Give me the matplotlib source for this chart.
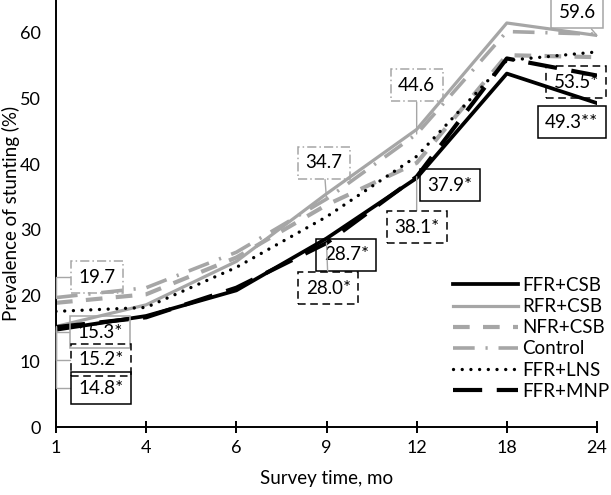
import matplotlib
matplotlib.use("Agg")
import matplotlib.pyplot as plt

plt.rcParams['font.family'] = ['Lato', 'DejaVu Sans']

months = ["1", "4", "6", "9", "12", "18", "24"]
ffr_csb = [14.8, 16.9, 20.8, 28.7, 37.9, 53.8, 49.3]
rfr_csb = [15.3, 18.6, 25.2, 35.5, 45.3, 61.5, 59.6]
nfr_csb = [18.9, 20.2, 25.8, 33.8, 40.2, 56.6, 56.3]
control = [19.7, 21.2, 26.6, 34.7, 44.6, 60.2, 59.8]
ffr_lns = [17.6, 18.2, 24.3, 32.0, 41.2, 55.8, 57.1]
ffr_mnp = [15.2, 16.7, 21.2, 28.0, 38.1, 56.1, 53.5]

series_names = ["FFR+CSB", "RFR+CSB", "NFR+CSB", "Control", "FFR+LNS", "FFR+MNP"]

ann_text = ["19.7", "15.3*", "15.2*", "14.8*", "28.7*", "28.0*", "38.1*", "37.9*",
            "34.7", "44.6", "59.6", "53.5*", "49.3**"]

GRAY = "#A6A6A6"
FS = 13.5
TFS = 13

L, R, B, T = 56, 597, 68, 495
fig = plt.figure(figsize=(6.11, 4.95), dpi=100)
ax = fig.add_axes([L/611, B/495, (R - L)/611, (T - B)/495])

x = list(range(len(months)))
lines_cfg = [
    (ffr_csb, dict(color="black", lw=2.7, ls="-")),
    (rfr_csb, dict(color=GRAY, lw=2.3, ls="-")),
    (nfr_csb, dict(color=GRAY, lw=3.0, ls=(0, (4, 3.2)))),
    (control, dict(color=GRAY, lw=2.6, ls=(0, (6, 3, 0.6, 3)))),
    (ffr_lns, dict(color="black", lw=2.4, ls=(0, (0.01, 2.6)), dash_capstyle="round")),
    (ffr_mnp, dict(color="black", lw=3.0, ls=(0, (7, 3.5)))),
]
for (vals, kw), name in zip(lines_cfg, series_names):
    ax.plot(x, vals, label=name, **kw)

ax.set_xlim(0, 6)
ax.set_ylim(0, 65)
ax.set_xticks(x)
ax.set_xticklabels(months)
ax.set_yticks(range(0, 61, 10))
for s in ["top", "right"]:
    ax.spines[s].set_visible(False)
for s in ["left", "bottom"]:
    ax.spines[s].set_linewidth(1.4)
ax.tick_params(axis="x", direction="inout", length=9, width=1.4, labelsize=TFS, pad=5)
ax.tick_params(axis="y", length=0, labelsize=TFS, pad=11)
ax.set_xlabel("Survey time, mo", fontsize=FS, labelpad=10)
ax.set_ylabel("Prevalence of stunting (%)", fontsize=FS, labelpad=0)

def box(edge, ls):
    return dict(boxstyle="square,pad=0.4", fc="none", ec=edge, lw=1.1, ls=ls)

styles = {
    "gdd": box(GRAY, (0, (6, 2, 1, 2))),
    "gs": box(GRAY, "-"),
    "kd": box("black", (0, (5, 3))),
    "ks": box("black", "-"),
}
lead = dict(arrowstyle="-", color=GRAY, lw=1.0, shrinkA=0, shrinkB=0)
elbow = dict(lead, connectionstyle="angle,angleA=0,angleB=90,rad=0")

anns = [
    (ann_text[0], (0, control[0]), (0.45, 22.8), "gdd", elbow),
    (ann_text[1], (0, rfr_csb[0]), (0.49, 14.4), "gs", elbow),
    (ann_text[2], (0, ffr_mnp[0]), (0.5, 10.2), "kd", elbow),
    (ann_text[3], (0, ffr_csb[0]), (0.5, 5.9), "ks", elbow),
    (ann_text[4], (3, ffr_csb[3]), (3.22, 26.2), "ks", None),
    (ann_text[5], (3, ffr_mnp[3]), (3.02, 21.1), "kd", lead),
    (ann_text[6], (4, ffr_mnp[4]), (4.0, 30.4), "kd", lead),
    (ann_text[7], (4, ffr_csb[4]), (4.37, 36.8), "ks", None),
    (ann_text[8], (3, control[3]), (2.97, 40.2), "gdd", lead),
    (ann_text[9], (4, control[4]), (4.0, 52.0), "gdd", lead),
    (ann_text[10], (6, rfr_csb[6]), (5.78, 63.1), "gs", lead),
    (ann_text[11], (6, ffr_mnp[6]), (5.77, 52.5), "kd", None),
    (ann_text[12], (6, ffr_csb[6]), (5.72, 46.4), "ks", None),
]
for txt, xy, xyt, st, arr in anns:
    kw = {}
    if arr is not None:
        kw["arrowprops"] = arr
    ax.annotate(txt, xy=xy, xytext=xyt, textcoords="data", ha="center", va="center",
                fontsize=FS, bbox=styles[st], annotation_clip=False, **kw)

leg = ax.legend(loc="upper left", bbox_to_anchor=((453 - L) / (R - L), (427 - 277) / 427),
                frameon=False, fontsize=FS, handlelength=3.45, handletextpad=0.25,
                labelspacing=0.22, borderpad=0, borderaxespad=0)

fig.savefig("out.png", dpi=100)
